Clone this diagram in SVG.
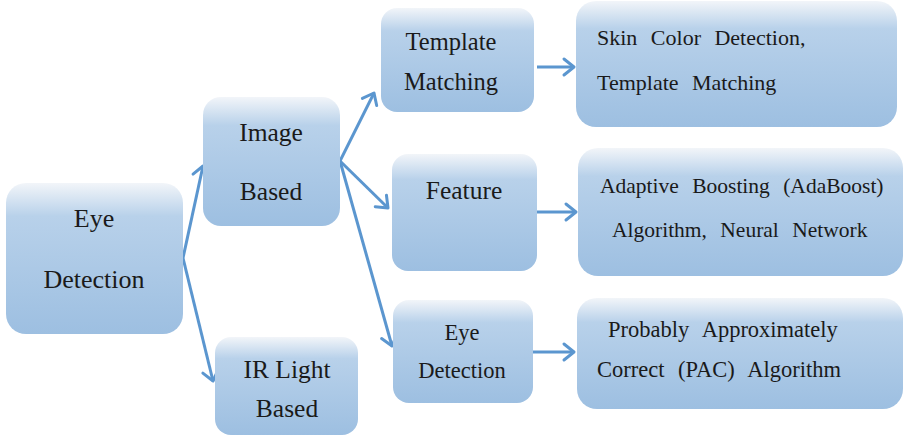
<svg xmlns="http://www.w3.org/2000/svg" width="905" height="436" viewBox="0 0 905 436">
  <style>
    .box { fill: url(#boxFill); }
    .lbl { fill: #1a1a1a; text-anchor: middle; }
    .lft { fill: #1a1a1a; word-spacing: 8px; }
    .conn { stroke: #5b96cf; stroke-width: 3; fill: none; marker-end: url(#chev); }
  </style>
  <defs>
    <linearGradient id="boxFill" x1="0" y1="0" x2="0" y2="1">
      <stop offset="0" stop-color="#f2f5f9"/>
      <stop offset="0.22" stop-color="#b8d1ea"/>
      <stop offset="1" stop-color="#9dbfe1"/>
    </linearGradient>
    <marker id="chev" markerUnits="userSpaceOnUse" markerWidth="24" markerHeight="24" viewBox="-14 -12 24 24" refX="0" refY="0" orient="auto">
      <path d="M-10,-8 L0,0 L-10,8" fill="none" stroke="#5b96cf" stroke-width="3" stroke-linecap="round" stroke-linejoin="round"/>
    </marker>
  </defs>

  <rect width="905" height="436" fill="#ffffff"/>

  <g id="connectors">
    <path class="conn" d="M183,258 L203,166"/>
    <path class="conn" d="M183,258 L213,381"/>
    <path class="conn" d="M340,161 L374,93"/>
    <path class="conn" d="M340,161 L388,208"/>
    <path class="conn" d="M340,161 L392,346"/>
    <path class="conn" d="M537,67 L574,67"/>
    <path class="conn" d="M537,212 L576,212"/>
    <path class="conn" d="M533,352 L574,352"/>
  </g>

  <g font-family="Liberation Serif, DejaVu Serif, serif">
  <g id="eye-detection">
    <rect class="box" x="6" y="183" width="177" height="151" rx="20"/>
    <text class="lbl" x="94" y="227" font-size="26">Eye</text>
    <text class="lbl" x="94" y="288" font-size="26">Detection</text>
  </g>

  <g id="image-based">
    <rect class="box" x="203" y="97" width="137" height="129" rx="18"/>
    <text class="lbl" x="271" y="141" font-size="25.5">Image</text>
    <text class="lbl" x="271" y="200" font-size="25.5">Based</text>
  </g>

  <g id="ir-light-based">
    <rect class="box" x="215" y="337" width="143" height="98" rx="16"/>
    <text class="lbl" x="287" y="378" font-size="25.5">IR Light</text>
    <text class="lbl" x="287" y="417" font-size="25.5">Based</text>
  </g>

  <g id="template-matching">
    <rect class="box" x="381" y="8" width="153" height="104" rx="16"/>
    <text class="lbl" x="451" y="50" font-size="24.5">Template</text>
    <text class="lbl" x="451" y="90" font-size="24.5">Matching</text>
  </g>

  <g id="feature">
    <rect class="box" x="392" y="154" width="145" height="117" rx="16"/>
    <text class="lbl" x="464" y="199" font-size="25.5">Feature</text>
  </g>

  <g id="eye-detection-method">
    <rect class="box" x="393" y="300" width="140" height="103" rx="16"/>
    <text class="lbl" x="462" y="340" font-size="22.5">Eye</text>
    <text class="lbl" x="462" y="378" font-size="22.5">Detection</text>
  </g>

  <g id="skin-color">
    <rect class="box" x="576" y="1" width="321" height="126" rx="20"/>
    <text class="lft" x="597" y="45" font-size="22">Skin Color Detection,</text>
    <text class="lft" x="597" y="90" font-size="22" word-spacing="11">Template Matching</text>
  </g>

  <g id="adaboost">
    <rect class="box" x="578" y="148" width="325" height="128" rx="20"/>
    <text class="lft" x="600" y="193" font-size="21.5">Adaptive Boosting (AdaBoost)</text>
    <text class="lft" x="612" y="237" font-size="21.5">Algorithm, Neural Network</text>
  </g>

  <g id="pac">
    <rect class="box" x="577" y="298" width="326" height="111" rx="20"/>
    <text class="lft" x="608" y="337" font-size="22.5">Probably Approximately</text>
    <text class="lft" x="597" y="377" font-size="22.5">Correct (PAC) Algorithm</text>
  </g>
  </g>
</svg>
